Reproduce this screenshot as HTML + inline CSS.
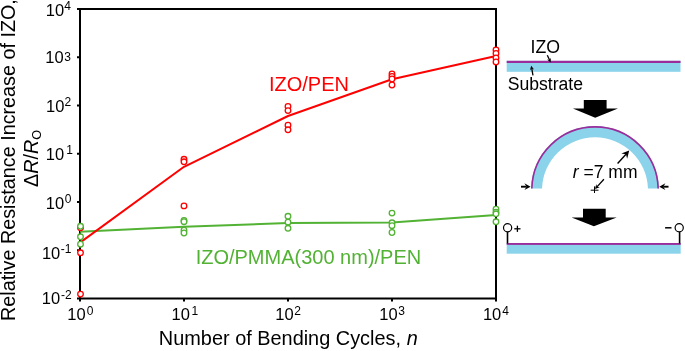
<!DOCTYPE html>
<html><head><meta charset="utf-8"><style>
html,body{margin:0;padding:0;background:#fff;}
body{width:685px;height:351px;overflow:hidden;}
svg{display:block;will-change:transform;}
text{font-family:"Liberation Sans",sans-serif;}
</style></head><body>
<svg width="685" height="351" viewBox="0 0 685 351">
<rect x="80" y="9" width="416" height="289.5" fill="none" stroke="#000" stroke-width="2"/>
<line x1="77" y1="298.50" x2="80" y2="298.50" stroke="#000" stroke-width="2"/>
<line x1="77" y1="250.25" x2="80" y2="250.25" stroke="#000" stroke-width="2"/>
<line x1="77" y1="202.00" x2="80" y2="202.00" stroke="#000" stroke-width="2"/>
<line x1="77" y1="153.75" x2="80" y2="153.75" stroke="#000" stroke-width="2"/>
<line x1="77" y1="105.50" x2="80" y2="105.50" stroke="#000" stroke-width="2"/>
<line x1="77" y1="57.25" x2="80" y2="57.25" stroke="#000" stroke-width="2"/>
<line x1="77" y1="9.00" x2="80" y2="9.00" stroke="#000" stroke-width="2"/>
<line x1="80.00" y1="298.5" x2="80.00" y2="301.5" stroke="#000" stroke-width="2"/>
<line x1="184.00" y1="298.5" x2="184.00" y2="301.5" stroke="#000" stroke-width="2"/>
<line x1="288.00" y1="298.5" x2="288.00" y2="301.5" stroke="#000" stroke-width="2"/>
<line x1="392.00" y1="298.5" x2="392.00" y2="301.5" stroke="#000" stroke-width="2"/>
<line x1="496.00" y1="298.5" x2="496.00" y2="301.5" stroke="#000" stroke-width="2"/>
<path d="M80,231.7 L184,226.8 L288,223.1 L392,222.6 L496,215" fill="none" stroke="#52b234" stroke-width="2" stroke-linejoin="round"/>
<path d="M80,242.6 L184,166.8 L288,116 L392,79.3 L496,56" fill="none" stroke="#ff0000" stroke-width="2" stroke-linejoin="round"/>
<circle cx="80.5" cy="227.8" r="2.8" fill="#fff" stroke="#ff0000" stroke-width="1.3"/>
<circle cx="80.5" cy="252.8" r="2.8" fill="#fff" stroke="#ff0000" stroke-width="1.3"/>
<circle cx="80.5" cy="294.1" r="2.8" fill="#fff" stroke="#ff0000" stroke-width="1.3"/>
<circle cx="184" cy="159.3" r="2.8" fill="#fff" stroke="#ff0000" stroke-width="1.3"/>
<circle cx="184" cy="161.8" r="2.8" fill="#fff" stroke="#ff0000" stroke-width="1.3"/>
<circle cx="184" cy="205.9" r="2.8" fill="#fff" stroke="#ff0000" stroke-width="1.3"/>
<circle cx="288" cy="106.4" r="2.8" fill="#fff" stroke="#ff0000" stroke-width="1.3"/>
<circle cx="288" cy="110.6" r="2.8" fill="#fff" stroke="#ff0000" stroke-width="1.3"/>
<circle cx="288" cy="125.2" r="2.8" fill="#fff" stroke="#ff0000" stroke-width="1.3"/>
<circle cx="288" cy="129.8" r="2.8" fill="#fff" stroke="#ff0000" stroke-width="1.3"/>
<circle cx="392" cy="74" r="2.8" fill="#fff" stroke="#ff0000" stroke-width="1.3"/>
<circle cx="392" cy="76.5" r="2.8" fill="#fff" stroke="#ff0000" stroke-width="1.3"/>
<circle cx="392" cy="79" r="2.8" fill="#fff" stroke="#ff0000" stroke-width="1.3"/>
<circle cx="392" cy="85" r="2.8" fill="#fff" stroke="#ff0000" stroke-width="1.3"/>
<circle cx="496" cy="50" r="2.8" fill="#fff" stroke="#ff0000" stroke-width="1.3"/>
<circle cx="496" cy="53.5" r="2.8" fill="#fff" stroke="#ff0000" stroke-width="1.3"/>
<circle cx="496" cy="58" r="2.8" fill="#fff" stroke="#ff0000" stroke-width="1.3"/>
<circle cx="496" cy="62" r="2.8" fill="#fff" stroke="#ff0000" stroke-width="1.3"/>
<circle cx="80.5" cy="226.3" r="2.8" fill="#fff" stroke="#52b234" stroke-width="1.3"/>
<circle cx="80.5" cy="236.8" r="2.8" fill="#fff" stroke="#52b234" stroke-width="1.3"/>
<circle cx="80.5" cy="244.2" r="2.8" fill="#fff" stroke="#52b234" stroke-width="1.3"/>
<circle cx="184" cy="220.5" r="2.8" fill="#fff" stroke="#52b234" stroke-width="1.3"/>
<circle cx="184" cy="221.7" r="2.8" fill="#fff" stroke="#52b234" stroke-width="1.3"/>
<circle cx="184" cy="230.2" r="2.8" fill="#fff" stroke="#52b234" stroke-width="1.3"/>
<circle cx="184" cy="233" r="2.8" fill="#fff" stroke="#52b234" stroke-width="1.3"/>
<circle cx="288" cy="216.3" r="2.8" fill="#fff" stroke="#52b234" stroke-width="1.3"/>
<circle cx="288" cy="222.2" r="2.8" fill="#fff" stroke="#52b234" stroke-width="1.3"/>
<circle cx="288" cy="228.3" r="2.8" fill="#fff" stroke="#52b234" stroke-width="1.3"/>
<circle cx="392" cy="213.1" r="2.8" fill="#fff" stroke="#52b234" stroke-width="1.3"/>
<circle cx="392" cy="222.8" r="2.8" fill="#fff" stroke="#52b234" stroke-width="1.3"/>
<circle cx="392" cy="225.7" r="2.8" fill="#fff" stroke="#52b234" stroke-width="1.3"/>
<circle cx="392" cy="232.5" r="2.8" fill="#fff" stroke="#52b234" stroke-width="1.3"/>
<circle cx="496" cy="209.2" r="2.8" fill="#fff" stroke="#52b234" stroke-width="1.3"/>
<circle cx="496" cy="212.1" r="2.8" fill="#fff" stroke="#52b234" stroke-width="1.3"/>
<circle cx="496" cy="213.8" r="2.8" fill="#fff" stroke="#52b234" stroke-width="1.3"/>
<circle cx="496" cy="221.8" r="2.8" fill="#fff" stroke="#52b234" stroke-width="1.3"/>
<text transform="translate(45.74,15.80) scale(0.96,1)" font-size="17.2" fill="#000">10</text>
<text x="64.22" y="9.80" font-size="12" fill="#000">4</text>
<text transform="translate(45.24,63.40) scale(0.96,1)" font-size="17.2" fill="#000">10</text>
<text x="64.34" y="60.50" font-size="12" fill="#000">3</text>
<text transform="translate(46.04,111.80) scale(0.96,1)" font-size="17.2" fill="#000">10</text>
<text x="64.40" y="106.20" font-size="12" fill="#000">2</text>
<text transform="translate(45.74,160.40) scale(0.96,1)" font-size="17.2" fill="#000">10</text>
<text x="66.29" y="154.20" font-size="12" fill="#000">1</text>
<text transform="translate(45.74,208.50) scale(0.96,1)" font-size="17.2" fill="#000">10</text>
<text x="64.73" y="202.50" font-size="12" fill="#000">0</text>
<text transform="translate(41.94,258.90) scale(0.96,1)" font-size="17.2" fill="#000">10</text>
<text x="60.87" y="252.90" font-size="12" fill="#000">-1</text>
<text transform="translate(41.84,304.40) scale(0.96,1)" font-size="17.2" fill="#000">10</text>
<text x="60.97" y="298.80" font-size="12" fill="#000">-2</text>
<text transform="translate(67.24,320.20) scale(0.96,1)" font-size="17.2" fill="#000">10</text>
<text x="86.73" y="314.70" font-size="12" fill="#000">0</text>
<text transform="translate(171.54,320.20) scale(0.96,1)" font-size="17.2" fill="#000">10</text>
<text x="191.59" y="314.50" font-size="12" fill="#000">1</text>
<text transform="translate(275.24,320.20) scale(0.96,1)" font-size="17.2" fill="#000">10</text>
<text x="294.20" y="314.70" font-size="12" fill="#000">2</text>
<text transform="translate(379.24,320.20) scale(0.96,1)" font-size="17.2" fill="#000">10</text>
<text x="398.34" y="314.70" font-size="12" fill="#000">3</text>
<text transform="translate(482.94,319.70) scale(0.96,1)" font-size="17.2" fill="#000">10</text>
<text x="502.22" y="315.20" font-size="12" fill="#000">4</text>
<text x="268.95" y="91.30" font-size="20" fill="#ff0000">IZO/PEN</text>
<text x="195.65" y="264.30" font-size="20" fill="#52b234">IZO/PMMA(300 nm)/PEN</text>
<text x="158.87" y="344.80" font-size="19.9" fill="#000">Number of Bending Cycles, </text>
<text x="406.63" y="344.8" font-size="19.9" font-style="italic">n</text>
<text transform="translate(15.2,321.02) rotate(-90)" font-size="19.78">Relative Resistance Increase of IZO,</text>
<text transform="translate(38.2,187.09) rotate(-90)" font-size="19.8">Δ<tspan font-style="italic">R</tspan>/<tspan font-style="italic">R</tspan><tspan font-size="12.8" dy="2.8">O</tspan></text>
<rect x="506.7" y="60.8" width="173.8" height="11" fill="#8bd3ea"/>
<rect x="506.7" y="60.8" width="173.8" height="2.2" fill="#9a2d9a"/>
<rect x="506.7" y="243" width="174" height="10.7" fill="#8bd3ea"/>
<rect x="506.7" y="243" width="174" height="1.9" fill="#9a2d9a"/>
<path d="M531.02,188.5 A64,64 0 0 1 658.98,188.5 L647.97,188.5 A53,53 0 0 0 542.03,188.5 Z" fill="#8bd3ea"/>
<path d="M531.82,188.5 A63.2,63.2 0 0 1 658.18,188.5" fill="none" stroke="#9a2d9a" stroke-width="1.6"/>
<path d="M583.8,99.9 L606.6,99.9 L606.6,108.6 L618,108.6 L595.2,117.8 L572.9,108.6 L583.8,108.6 Z" fill="#000"/>
<path d="M583,208.8 L605.7,208.8 L605.7,217.5 L616.7,217.5 L593.9,226.3 L571.6,217.5 L583,217.5 Z" fill="#000"/>
<line x1="547.3" y1="55.2" x2="549.55" y2="60.03" stroke="#000" stroke-width="1.3"/>
<path d="M550.7,62.5 L547.02,59.58 L549.55,60.03 L550.83,57.81 Z" fill="#000"/>
<line x1="533" y1="75.3" x2="531.71" y2="68.48" stroke="#000" stroke-width="1.3"/>
<path d="M531.2,65.8 L534.05,69.54 L531.71,68.48 L529.92,70.32 Z" fill="#000"/>
<line x1="521" y1="186.7" x2="526.57" y2="186.70" stroke="#000" stroke-width="1.9"/>
<path d="M530.6,186.7 L524.40,190.10 L526.57,186.70 L524.40,183.30 Z" fill="#000"/>
<line x1="668.5" y1="186.7" x2="663.23" y2="186.70" stroke="#000" stroke-width="1.9"/>
<path d="M659.2,186.7 L665.40,183.30 L663.23,186.70 L665.40,190.10 Z" fill="#000"/>
<line x1="617.6" y1="163.5" x2="625.98" y2="154.18" stroke="#000" stroke-width="1.4"/>
<path d="M629.2,150.6 L627.15,158.71 L625.98,154.18 L621.35,153.49 Z" fill="#000"/>
<line x1="603.9" y1="179.3" x2="596.98" y2="186.84" stroke="#000" stroke-width="1.3"/>
<path d="M595,189 L596.27,184.06 L596.98,186.84 L599.81,187.31 Z" fill="#000"/>
<line x1="590.7" y1="190.2" x2="598.5" y2="190.2" stroke="#000" stroke-width="1"/>
<line x1="594.5" y1="186.4" x2="594.5" y2="193" stroke="#000" stroke-width="1"/>
<line x1="507.5" y1="232" x2="507.5" y2="243.5" stroke="#000" stroke-width="1.6"/>
<circle cx="507.6" cy="227.8" r="4.1" fill="#fff" stroke="#000" stroke-width="1.2"/>
<line x1="679.6" y1="232" x2="679.6" y2="243.5" stroke="#000" stroke-width="1.6"/>
<circle cx="679.2" cy="227.8" r="4.1" fill="#fff" stroke="#000" stroke-width="1.2"/>
<line x1="514.3" y1="228.8" x2="520.5" y2="228.8" stroke="#000" stroke-width="1.3"/>
<line x1="517.4" y1="225.7" x2="517.4" y2="231.9" stroke="#000" stroke-width="1.3"/>
<line x1="665.1" y1="227.8" x2="671.5" y2="227.8" stroke="#000" stroke-width="1.5"/>
<text x="530.57" y="53.00" font-size="17.7" fill="#000">IZO</text>
<text x="507.70" y="90.20" font-size="17.6" fill="#000">Substrate</text>
<text x="572.8" y="178.4" font-size="17.5"><tspan font-style="italic">r</tspan> =7 mm</text>
</svg>
</body></html>
